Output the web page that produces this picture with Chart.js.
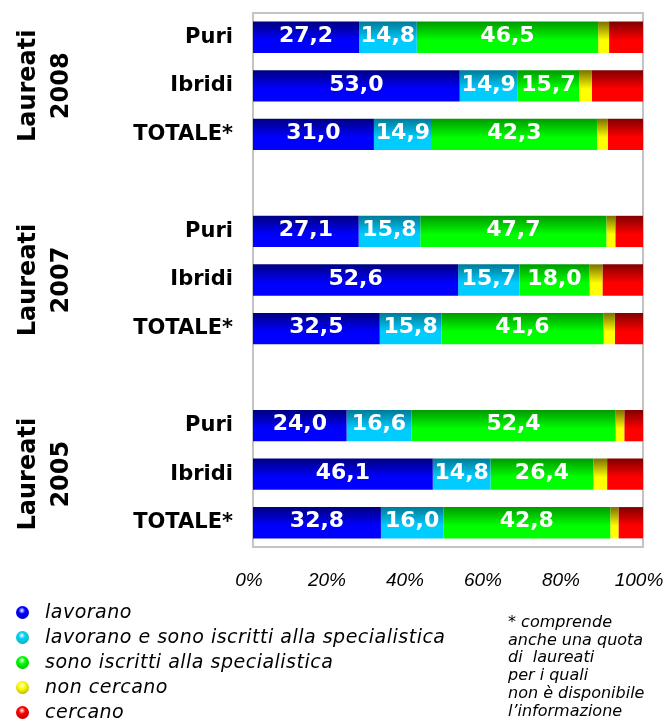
<!DOCTYPE html>
<html>
<head>
<meta charset="utf-8">
<script src="https://cdn.jsdelivr.net/npm/chart.js@4.4.1/dist/chart.umd.min.js"></script>
<style>
  html, body { margin:0; padding:0; background:#fff; }
  #wrap { position:relative; width:664px; height:722px; }
  #legend { position:absolute; left:16px; top:599px; font-family:"DejaVu Sans", sans-serif; font-style:italic; font-size:19px; letter-spacing:0.5px; color:#000; }
  #legend div { height:25px; line-height:25px; white-space:nowrap; }
  #legend span.dot { display:inline-block; width:13px; height:13px; border-radius:50%; margin-right:16px; vertical-align:-1px; }
  #note { position:absolute; left:508px; top:613px; font-family:"DejaVu Sans", sans-serif; font-style:italic; font-size:16px; line-height:17.7px; color:#000; white-space:pre; }
</style>
</head>
<body>
<div id="wrap">
  <canvas id="c" width="664" height="722"></canvas>
  <div id="legend"></div>
  <div id="note"></div>
</div>
<script>
// righe dentro ogni gruppo
const righe = ["Puri", "Ibridi", "TOTALE*"];
const anni = ["2008", "2007", "2005"];
const gruppoTitolo = "Laureati";

// valori in % (ordine: 2008 Puri, Ibridi, Totale, 2007 ..., 2005 ...)
const lavorano        = [27.2, 53.0, 31.0, 27.1, 52.6, 32.5, 24.0, 46.1, 32.8];
const lavoranoIscritti = [14.8, 14.9, 14.9, 15.8, 15.7, 15.8, 16.6, 14.8, 16.0];
const iscritti        = [46.5, 15.7, 42.3, 47.7, 18.0, 41.6, 52.4, 26.4, 42.8];
const nonCercano      = [2.8, 3.3, 2.8, 2.3, 3.3, 2.9, 2.2, 3.5, 2.1];
const cercano         = [8.7, 13.1, 9.0, 7.1, 10.4, 7.2, 4.8, 9.2, 6.3];

const serieNomi = ["lavorano", "lavorano e sono iscritti alla specialistica", "sono iscritti alla specialistica", "non cercano", "cercano"];
const xTicks = [0, 20, 40, 60, 80, 100];

const NOTA = "* comprende\nanche una quota\ndi  laureati\nper i quali\nnon è disponibile\nl\u2019informazione";

// colori: [scuro in alto, chiaro in basso, pallino legenda]
const COLORI = [
  ["#000080", "#0000ff", "#0000d8"],
  ["#007a96", "#00ccff", "#00c8cc"],
  ["#009a00", "#00ff00", "#00d800"],
  ["#7a7000", "#ffff00", "#d8d800"],
  ["#800000", "#ff0000", "#d80000"],
];
const BAR_PCT = 0.645;

// etichette categoria con una riga vuota tra i gruppi
const labels = [];
anni.forEach((a, g) => { righe.forEach(r => labels.push(r)); if (g < anni.length - 1) labels.push(""); });

function conVuoti(arr){
  const out = [];
  anni.forEach((a, g) => {
    righe.forEach((r, i) => out.push(arr[g * righe.length + i]));
    if (g < anni.length - 1) out.push(null);
  });
  return out;
}

function sfumatura(k){
  return (ctx) => {
    const chart = ctx.chart;
    const y = chart.scales && chart.scales.y;
    if (!y || ctx.dataIndex === undefined) return COLORI[k][1];
    const c = y.getPixelForValue(ctx.dataIndex);
    const half = (y.getPixelForValue(1) - y.getPixelForValue(0)) * BAR_PCT / 2;
    if (!isFinite(c) || !isFinite(half)) return COLORI[k][1];
    const g = chart.ctx.createLinearGradient(0, c - half, 0, c + half);
    g.addColorStop(0, COLORI[k][0]);
    g.addColorStop(0.6, COLORI[k][1]);
    g.addColorStop(1, COLORI[k][1]);
    return g;
  };
}

const serie = [lavorano, lavoranoIscritti, iscritti, nonCercano, cercano];
const datasets = serie.map((s, k) => ({
  label: serieNomi[k],
  data: conVuoti(s),
  backgroundColor: sfumatura(k),
  borderWidth: 0,
  barPercentage: BAR_PCT,
  categoryPercentage: 1,
  conEtichetta: k < 3,
}));

const bordoPlot = {
  id: "bordoPlot",
  beforeDatasetsDraw(chart){
    const {ctx, chartArea: a} = chart;
    ctx.save();
    ctx.strokeStyle = "#c4c4c4";
    ctx.lineWidth = 2;
    ctx.strokeRect(a.left, a.top, a.right - a.left, a.bottom - a.top);
    ctx.restore();
  },
};

const etichette = {
  id: "etichette",
  afterDatasetsDraw(chart){
    const ctx = chart.ctx;
    ctx.save();
    ctx.font = "bold 22px 'DejaVu Sans'";
    ctx.fillStyle = "#fff";
    ctx.textAlign = "center";
    ctx.textBaseline = "middle";
    chart.data.datasets.forEach((ds, k) => {
      if (!ds.conEtichetta) return;
      chart.getDatasetMeta(k).data.forEach((el, i) => {
        const v = ds.data[i];
        if (v == null) return;
        ctx.fillText(v.toFixed(1).replace(".", ","), (el.x + el.base) / 2, el.y - 1);
      });
    });
    ctx.restore();
  },
  afterDraw(chart){
    const ctx = chart.ctx;
    const y = chart.scales.y;
    ctx.save();
    ctx.font = "bold 24px 'DejaVu Sans'";
    ctx.fillStyle = "#000";
    ctx.textAlign = "center";
    ctx.textBaseline = "alphabetic";
    anni.forEach((a, g) => {
      const yc = y.getPixelForValue(g * (righe.length + 1) + 1);
      ctx.save();
      ctx.translate(0, yc);
      ctx.rotate(-Math.PI / 2);
      ctx.fillText(gruppoTitolo, 0, 35);
      ctx.fillText(a, 0, 68);
      ctx.restore();
    });
    ctx.restore();
  },
};

new Chart(document.getElementById("c"), {
  type: "bar",
  data: { labels, datasets },
  options: {
    indexAxis: "y",
    responsive: false,
    animation: false,
    layout: { padding: { top: 13, right: 21, bottom: 125, left: 0 } },
    scales: {
      x: {
        stacked: true, min: 0, max: 100,
        afterFit(s){ s.height = 50; s.paddingLeft = 0; s.paddingRight = 0; },
        afterBuildTicks(s){ s.ticks = xTicks.map(v => ({ value: v })); },
        grid: { display: false, drawTicks: false }, border: { display: false },
        ticks: { color: "#000", padding: 22, labelOffset: -4, font: { family: "'Liberation Sans'", style: "italic", size: 19 }, callback: v => v + "%" },
      },
      y: {
        stacked: true,
        afterFit(s){ s.width = 253; s.paddingTop = 0; s.paddingBottom = 0; },
        grid: { display: false, drawTicks: false }, border: { display: false },
        ticks: { color: "#000", padding: 20, autoSkip: false, font: { family: "'DejaVu Sans'", weight: "bold", size: 21 } },
      },
    },
    plugins: { legend: { display: false }, tooltip: { enabled: false } },
  },
  plugins: [bordoPlot, etichette],
});

// legenda
document.getElementById("legend").innerHTML = serieNomi.map((n, k) =>
  `<div><span class="dot" style="background:radial-gradient(circle at 45% 35%, #fff 0%, ${COLORI[k][1]} 30%, ${COLORI[k][2]} 60%, ${COLORI[k][0]} 100%)"></span>${n}</div>`
).join("");
document.getElementById("note").textContent = NOTA;
</script>
</body>
</html>
